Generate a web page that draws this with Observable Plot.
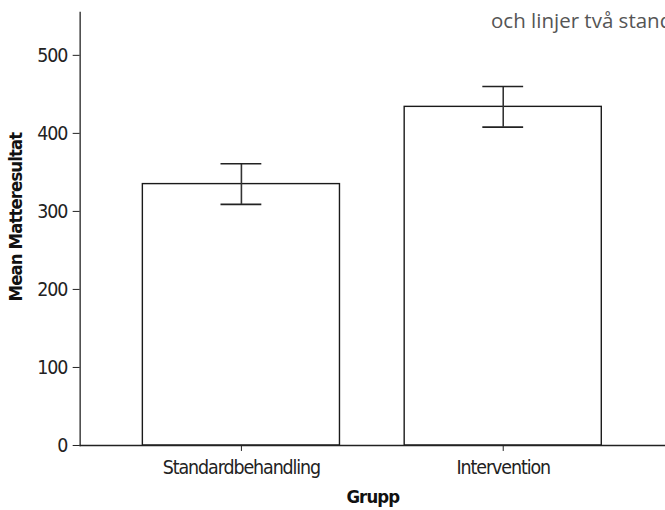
<!DOCTYPE html>
<html>
<head>
<meta charset="utf-8">
<script src="https://cdn.jsdelivr.net/npm/d3@7"></script>
<script src="https://cdn.jsdelivr.net/npm/@observablehq/plot@0.6"></script>
<style>
  html, body { margin: 0; padding: 0; background: #fff; }
  body { width: 665px; height: 510px; overflow: hidden; position: relative; }
  #chart { position: absolute; left: 0; top: 0; }
  #title {
    position: absolute; left: 491px; top: 6px; white-space: nowrap;
    font-family: "Open Sans", sans-serif; font-weight: 400; font-size: 20.5px; color: #555;
  }
  #chart svg { font-family: "DejaVu Sans", sans-serif; font-stretch: condensed; }
  #chart svg g[aria-label$="tick label"] { font-size: 19.5px; letter-spacing: -1.1px; fill: #222; }
  #chart svg g[aria-label$="axis label"] { font-size: 18.5px; letter-spacing: -0.9px; font-weight: bold; fill: #111; }
</style>
</head>
<body>
<div id="chart"></div>
<div id="title">och linjer två standardavvikelser</div>
<script>
// Medelvärde per grupp med felstaplar
const groups = ["Standardbehandling", "Intervention"];
const means = [335, 434];
const lower = [309, 408];
const upper = [361, 460];
const yTicks = [0, 100, 200, 300, 400, 500];

const rows = groups.map((g, i) => ({grupp: g, mean: means[i], lo: lower[i], hi: upper[i]}));

const chart = Plot.plot({
  width: 668,
  height: 510,
  marginLeft: 80,
  marginRight: 0,
  marginTop: 12,
  marginBottom: 63,
  style: {background: "#fff", overflow: "visible"},
  x: {domain: groups, paddingInner: 0.246, paddingOuter: 0.237},
  y: {domain: [0, 555]},
  marks: [
    Plot.barY(rows, {x: "grupp", y: "mean", fill: "#fff", stroke: "#1a1a1a", strokeWidth: 1.4}),
    Plot.ruleX(rows, {x: "grupp", y1: "lo", y2: "hi", stroke: "#333", strokeWidth: 1.6}),
    Plot.tickY(rows, {x: "grupp", y: "lo", stroke: "#222", strokeWidth: 1.6, insetLeft: 78.5, insetRight: 78.5}),
    Plot.tickY(rows, {x: "grupp", y: "hi", stroke: "#222", strokeWidth: 1.6, insetLeft: 78.5, insetRight: 78.5}),
    Plot.frame({anchor: "left", stroke: "#222", strokeWidth: 1.3}),
    Plot.frame({anchor: "bottom", stroke: "#222", strokeWidth: 1.3}),
    Plot.axisY({ticks: yTicks, tickSize: 7, tickPadding: 6, label: "Mean Matteresultat",
      labelArrow: "none", labelAnchor: "center", labelOffset: 72, stroke: "#222"}),
    Plot.axisX({tickSize: 6, tickPadding: 9, label: "Grupp", labelArrow: "none", labelAnchor: "center",
      labelOffset: 58, stroke: "#222"})
  ]
});

// Lift the vertical axis title slightly above the frame's centre
const yLabel = chart.querySelector('g[aria-label="y-axis label"]');
if (yLabel) yLabel.setAttribute("transform", ((yLabel.getAttribute("transform") || "") + " translate(0,-12)").trim());

document.getElementById("chart").appendChild(chart);
</script>
</body>
</html>
